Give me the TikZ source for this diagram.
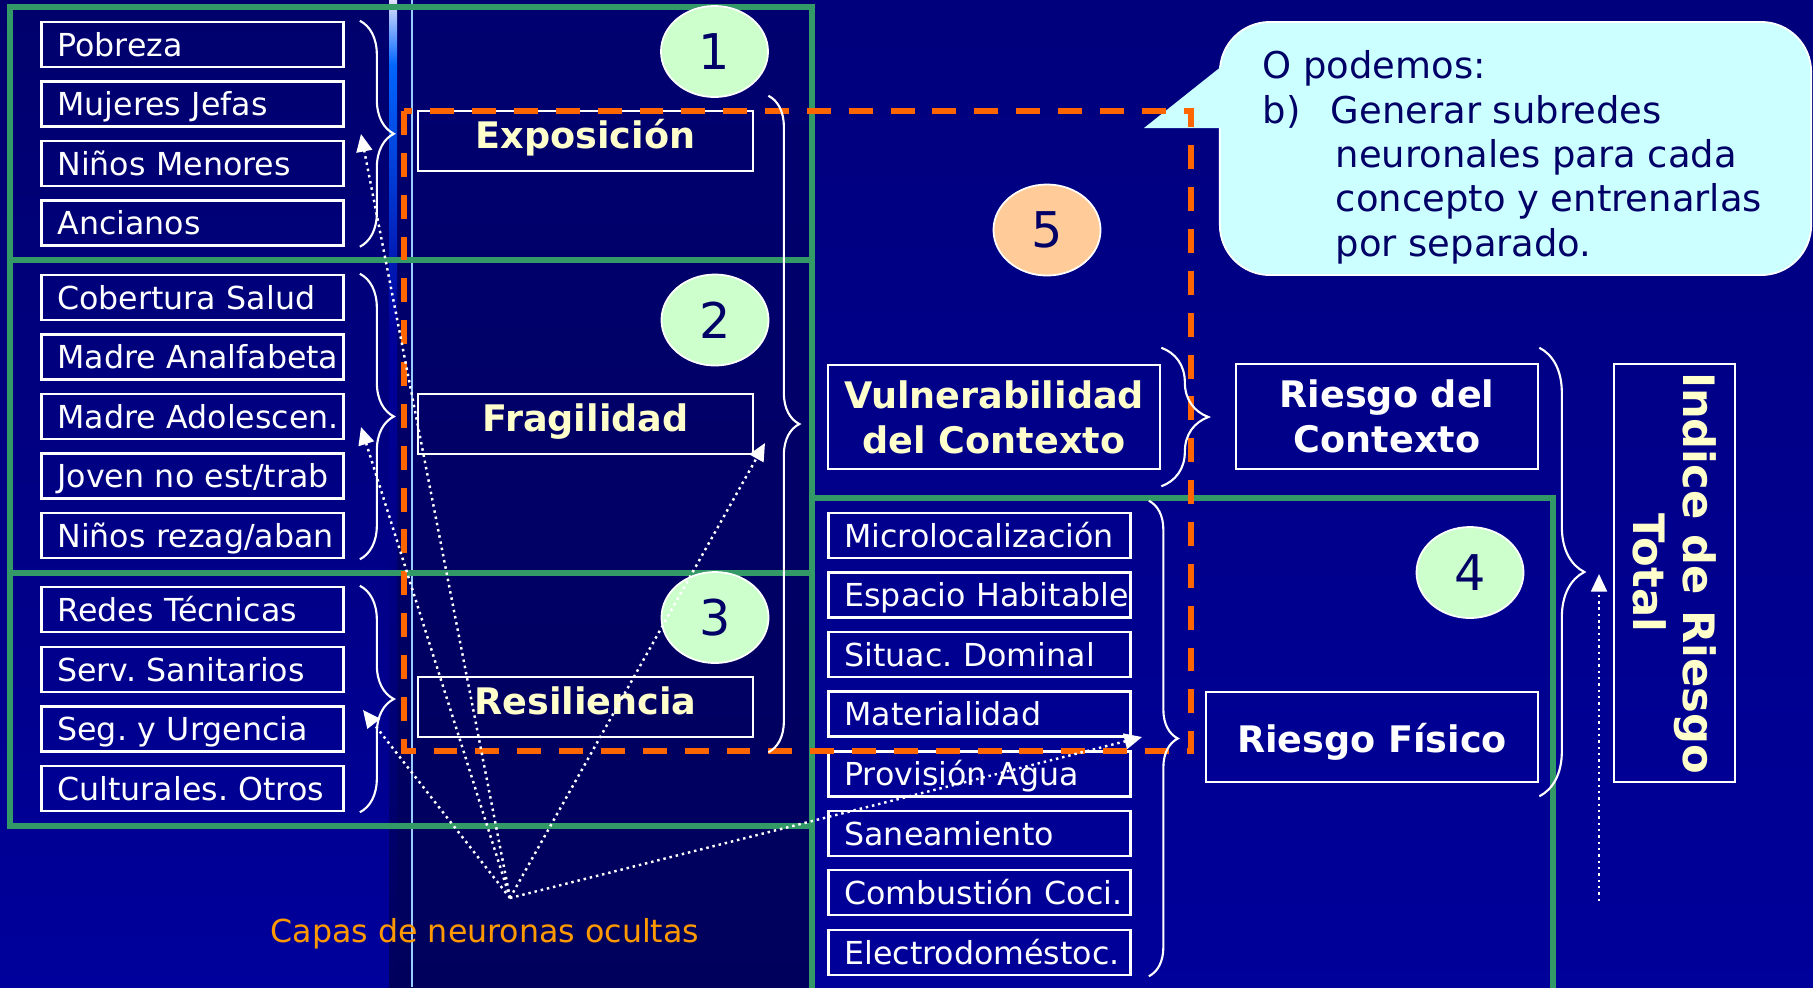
\documentclass[tikz,border=0pt]{standalone}
\usepackage{fontspec}
\setmainfont{DejaVu Sans}
\usetikzlibrary{shapes.geometric,arrows.meta,decorations.pathreplacing}
\frenchspacing

\definecolor{verde}{HTML}{339966}
\definecolor{naranja}{HTML}{FF6600}
\definecolor{crema}{HTML}{FFFFCC}
\definecolor{marino}{HTML}{000066}
\definecolor{celeste}{HTML}{CCFFFF}
\definecolor{menta}{HTML}{CCFFCC}
\definecolor{durazno}{HTML}{FFCC99}
\definecolor{capas}{HTML}{FF9900}
\definecolor{linea}{HTML}{99CCFF}
\definecolor{fondo}{HTML}{000090}
\definecolor{izqa}{HTML}{00006C}
\definecolor{izqb}{HTML}{00009C}
\definecolor{meda}{HTML}{000070}
\definecolor{medb}{HTML}{00005C}
\definecolor{dera}{HTML}{00007C}
\definecolor{derb}{HTML}{00009A}
\definecolor{brillo}{HTML}{0066FF}

\begin{document}
\begin{tikzpicture}[x=0.01cm, y=-0.01cm]

\tikzstyle{dato} = [draw=white, line width=0.7pt, inner sep=0pt, minimum height=0.45cm, text width=3.02cm, align=left, text=white, text height=6.6pt, text depth=0pt, font=\fontsize{9}{11}\selectfont, execute at begin node={\hspace*{0.16cm}}]
\tikzstyle{conc} = [draw=white, line width=0.7pt, inner sep=0pt, align=center, text=crema, font=\bfseries\fontsize{10.4}{12.8}\selectfont]
\tikzstyle{num} = [ellipse, draw=white, line width=0.5pt, fill=menta, minimum width=1.07cm, minimum height=0.91cm, inner sep=0pt, text=marino, font=\fontsize{14}{14}\selectfont]
\tikzstyle{llave} = [white, line width=0.6pt, decorate]
\tikzstyle{flecha} = [white, line width=0.7pt, dash pattern=on 0.7pt off 1.1pt, -{Triangle[length=5pt,width=4.5pt]}]
\tikzstyle{caja} = [verde, line width=1.5pt]

\useasboundingbox (0,0) rectangle (1813,987);
\clip (0,0) rectangle (1813,987);

% fondo
\fill[fondo] (0,0) rectangle (1813,987);
\shade[top color=izqa, bottom color=izqb] (0,0) rectangle (389,987);
\shade[top color=meda, bottom color=medb] (389,0) rectangle (812,987);
\shade[top color=dera, bottom color=derb] (812,0) rectangle (1813,987);
\shade[top color=white!88!blue, bottom color=brillo] (389,0) rectangle (397,65);
\shade[top color=brillo, bottom color=izqb] (389,65) rectangle (397,330);
\shade[top color=izqb, bottom color=medb] (389,330) rectangle (397,987);
\draw[linea, line width=0.6pt] (412,0) -- (412,987);

% bloques
\draw[caja] (10,7) rectangle (812,260);
\draw[caja] (10,260) rectangle (812,573);
\draw[caja] (10,573) rectangle (812,826);
\draw[caja] (812,498) rectangle (1553,1000);

% entradas
\node[dato] (pobreza) at (192.5,44.5) {Pobreza};
\node[dato] (mujeres) at (192.5,104) {Mujeres Jefas};
\node[dato] (ninos) at (192.5,163.5) {Niños Menores};
\node[dato] (ancianos) at (192.5,223) {Ancianos};
\node[dato] (salud) at (192.5,297.5) {Cobertura Salud};
\node[dato] (analf) at (192.5,357) {Madre Analfabeta};
\node[dato] (adol) at (192.5,416.5) {Madre Adolescen.};
\node[dato] (joven) at (192.5,476) {Joven no est/trab};
\node[dato] (rezag) at (192.5,535.5) {Niños rezag/aban};
\node[dato] (redes) at (192.5,609.5) {Redes Técnicas};
\node[dato] (sanit) at (192.5,669.5) {Serv. Sanitarios};
\node[dato] (urgen) at (192.5,729) {Seg. y Urgencia};
\node[dato] (cultur) at (192.5,788.5) {Culturales. Otros};

\node[dato] (micro) at (979.5,535.5) {Microlocalización};
\node[dato] (espacio) at (979.5,595) {Espacio Habitable};
\node[dato] (dominal) at (979.5,654.5) {Situac. Dominal};
\node[dato] (mater) at (979.5,714) {Materialidad};
\node[dato] (agua) at (979.5,774) {Provisión Agua};
\node[dato] (sanea) at (979.5,833.5) {Saneamiento};
\node[dato] (combus) at (979.5,892.5) {Combustión Coci.};
\node[dato] (electro) at (979.5,952.5) {Electrodoméstoc.};

% conceptos
\node[conc, minimum width=3.35cm, minimum height=0.6cm, text height=7.6pt, text depth=3.4pt] (expo) at (585.5,141) {Exposición};
\node[conc, minimum width=3.35cm, minimum height=0.6cm, text height=7.6pt, text depth=3.4pt] (fragil) at (585.5,424) {Fragilidad};
\node[conc, minimum width=3.35cm, minimum height=0.6cm, text height=7.6pt, text depth=3.4pt] (resil) at (585.5,707) {Resiliencia};
\node[conc, minimum width=3.32cm, minimum height=1.04cm] (vulner) at (994,417) {Vulnerabilidad\\del Contexto};
\node[conc, text=white, minimum width=3.02cm, minimum height=1.05cm] (rcont) at (1387,416.5) {Riesgo del\\Contexto};
\node[conc, text=white, minimum width=3.32cm, minimum height=0.9cm, text height=10.2pt, text depth=1.5pt] (rfis) at (1372,737) {Riesgo Físico};
\node[conc, rotate=-90, minimum width=4.18cm, minimum height=1.21cm, font=\bfseries\fontsize{12.3}{14.2}\selectfont] (indice) at (1674.5,573) {Indice de Riesgo\\Total};

% numeros
\node[num] (n1) at (714.5,51.5) {1};
\node[num] (n2) at (715,320) {2};
\node[num] (n3) at (715,617.5) {3};
\node[num] (n4) at (1470,572.5) {4};
\node[num, fill=durazno] (n5) at (1047,230) {5};

% nota
\node[fill=celeste, draw=white, line width=0.5pt, rounded corners=0.5cm, minimum width=5.91cm, minimum height=2.53cm] (nota) at (1515.5,148.5) {};
\fill[celeste] (1232,58) -- (1144,128) -- (1232,128) -- cycle;
\node[anchor=north west, inner sep=0pt, align=left, text=marino, font=\fontsize{10.5}{12.6}\selectfont] (texto) at (1262,50) {O podemos:\\\makebox[0.68cm][l]{b)}Generar subredes\\\hspace*{0.73cm}neuronales para cada\\\hspace*{0.73cm}concepto y entrenarlas\\\hspace*{0.73cm}por separado.};

% subred
\draw[naranja, line width=1.7pt, dash pattern=on 6.8pt off 5.1pt] (404,111) rectangle (1191,751);

% llaves
\draw[llave, decoration={brace, amplitude=0.34cm}] ([xshift=0.15cm]pobreza.north east) -- ([xshift=0.15cm]ancianos.south east);
\draw[llave, decoration={brace, amplitude=0.34cm}] ([xshift=0.15cm]salud.north east) -- ([xshift=0.15cm]rezag.south east);
\draw[llave, decoration={brace, amplitude=0.34cm}] ([xshift=0.15cm]redes.north east) -- ([xshift=0.15cm]cultur.south east);
\draw[llave, decoration={brace, amplitude=0.31cm}] ([xshift=0.14cm, yshift=0.14cm]expo.north east) -- ([xshift=0.14cm, yshift=-0.14cm]resil.south east);
\draw[llave, decoration={brace, amplitude=0.47cm}] ([yshift=0.16cm]vulner.north east) -- ([yshift=-0.16cm]vulner.south east);
\draw[llave, decoration={brace, amplitude=0.29cm}] ([xshift=0.17cm, yshift=0.11cm]micro.north east) -- ([xshift=0.17cm]electro.south east);
\draw[llave, decoration={brace, amplitude=0.45cm}] ([yshift=0.15cm]rcont.north east) -- ([yshift=-0.13cm]rfis.south east);

% flechas
\node[text=capas, font=\fontsize{9}{11}\selectfont] (capas) at (485,934) {Capas de neuronas ocultas};
\coordinate (origen) at (510,898);
\coordinate (t1) at (361,134);
\coordinate (t2) at (361,427);
\coordinate (t3) at (363,710);
\coordinate (t4) at (765,443);
\coordinate (t5) at (1142,737);
\coordinate (base) at (1599,901);
\coordinate (punta) at (1599,574);
\draw[flecha] (origen) -- (t1);
\draw[flecha] (origen) -- (t2);
\draw[flecha] (origen) -- (t3);
\draw[flecha] (origen) -- (t4);
\draw[flecha] (origen) -- (t5);
\draw[flecha] (base) -- (punta);

\end{tikzpicture}
\end{document}
